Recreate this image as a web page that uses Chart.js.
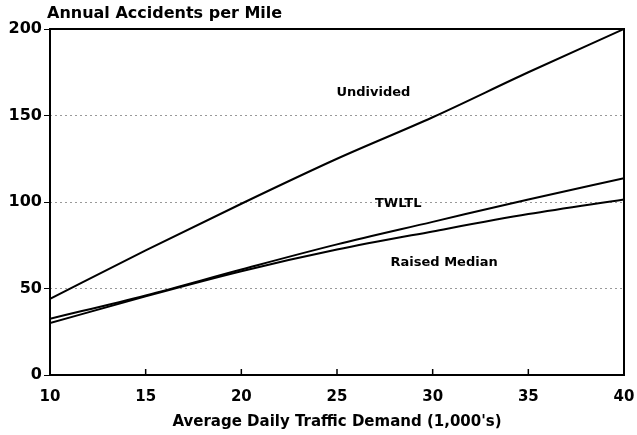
<!DOCTYPE html>
<html lang="en">
<head>
  <meta charset="UTF-8">
  <title>Annual Accidents per Mile</title>
  <script src="https://cdn.jsdelivr.net/npm/chart.js"></script>
  <style>
    body { margin: 0; padding: 0; background: #ffffff; }
    .wrap { width: 637px; height: 435px; }
  </style>
</head>
<body>
  <div class="wrap"><canvas id="chart" width="637" height="435"></canvas></div>

  <script>
    const traffic = [10, 15, 20, 25, 30, 35, 40];
    const undivided = [44, 72, 99, 125, 149, 175, 200];
    const twltl = [32.5, 46, 61, 75.5, 88.5, 101.5, 113.7];
    const raisedMedian = [30, 45.5, 60, 72.5, 83, 93, 101.5];
    const yTicks = [0, 50, 100, 150, 200];
    const curveLabels = [
      { text: 'Undivided', x: 26.9, y: 163 },
      { text: 'TWLTL', x: 28.2, y: 99 },
      { text: 'Raised Median', x: 30.6, y: 65 }
    ];

    const font = 'DejaVu Sans, Verdana, sans-serif';
    const toPoints = vals => vals.map((v, i) => ({ x: traffic[i], y: v }));
    const line = vals => ({
      data: toPoints(vals), borderColor: '#000', borderWidth: 2, pointRadius: 0,
      fill: false, cubicInterpolationMode: 'monotone'
    });

    // frame, title and curve names
    const extras = {
      id: 'extras',
      afterDraw(chart) {
        const { ctx, chartArea: a, scales } = chart;
        ctx.save();
        ctx.strokeStyle = '#000';
        ctx.lineWidth = 2;
        ctx.strokeRect(a.left, a.top, a.right - a.left, a.bottom - a.top);
        ctx.fillStyle = '#000';
        ctx.font = 'bold 16px ' + font;
        ctx.textBaseline = 'middle';
        ctx.textAlign = 'left';
        ctx.fillText('Annual Accidents per Mile', 47, 14);
        ctx.textAlign = 'center';
        ctx.font = 'bold 13px ' + font;
        curveLabels.forEach(l => ctx.fillText(l.text, scales.x.getPixelForValue(l.x), scales.y.getPixelForValue(l.y)));
        // small inward ticks on x axis
        ctx.lineWidth = 1.5;
        traffic.slice(1, -1).forEach(t => {
          const px = scales.x.getPixelForValue(t);
          ctx.beginPath(); ctx.moveTo(px, a.bottom); ctx.lineTo(px, a.bottom - 6); ctx.stroke();
        });
        ctx.restore();
      }
    };

    new Chart(document.getElementById('chart'), {
      type: 'line',
      data: { datasets: [line(undivided), line(twltl), line(raisedMedian)] },
      options: {
        responsive: false,
        animation: false,
        layout: { padding: { left: 6, right: 0, top: 29, bottom: 0 } },
        plugins: { legend: { display: false }, tooltip: { enabled: false } },
        scales: {
          x: {
            type: 'linear', min: 10, max: 40,
            afterBuildTicks: s => { s.ticks = traffic.map(v => ({ value: v })); },
            afterFit: s => { s.height = 60; s.paddingRight = 13; },
            grid: { display: false },
            border: { display: false },
            ticks: { color: '#000', font: { family: font, size: 15, weight: 'bold' }, padding: 5, maxRotation: 0 },
            title: { display: true, text: "Average Daily Traffic Demand (1,000's)", color: '#000', font: { family: font, size: 15, weight: 'bold' }, padding: { top: 0, bottom: 4 } }
          },
          y: {
            min: 0, max: 200,
            afterBuildTicks: s => { s.ticks = yTicks.map(v => ({ value: v })); },
            afterFit: s => { s.width = 44; },
            grid: {
              color: c => (c.tick && (c.tick.value === 0 || c.tick.value === 200)) ? 'rgba(0,0,0,0)' : '#999',
              lineWidth: 1, drawTicks: true, tickLength: 6, tickColor: '#000'
            },
            border: { display: false, dash: [2, 3] },
            ticks: { color: '#000', font: { family: font, size: 16, weight: 'bold' }, padding: 2 }
          }
        }
      },
      plugins: [extras]
    });
  </script>
</body>
</html>
